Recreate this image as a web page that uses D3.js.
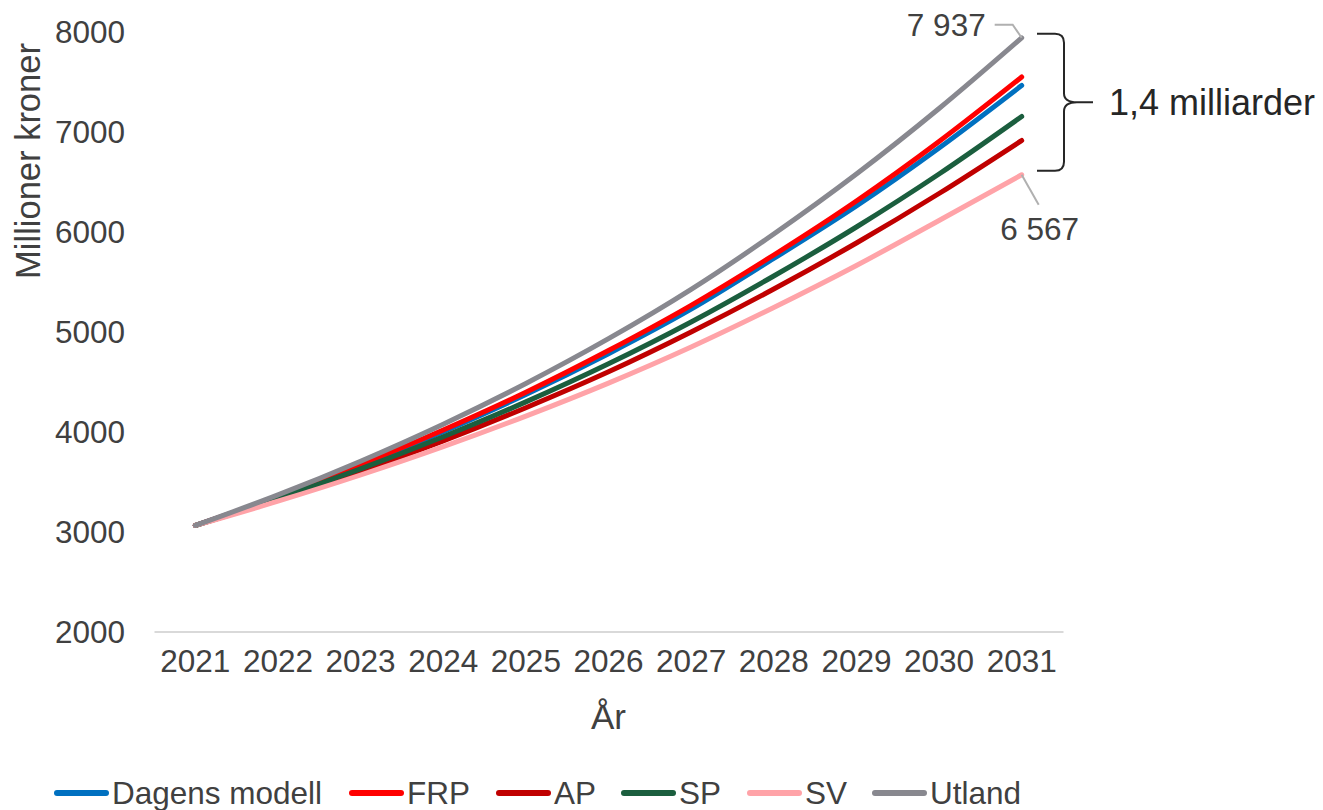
<!DOCTYPE html>
<html lang="no">
<head>
<meta charset="utf-8">
<script src="https://cdn.jsdelivr.net/npm/d3@7"></script>
<style>
  html, body { margin: 0; padding: 0; background: #ffffff; }
  svg { display: block; font-family: "Liberation Sans", Arial, sans-serif; }
</style>
</head>
<body>
<svg id="chart" width="1323" height="810"></svg>
<script>
// Years on the x axis
const years = ["2021", "2022", "2023", "2024", "2025", "2026", "2027", "2028", "2029", "2030", "2031"];

// Projected cost per model, million NOK
const dagensModell = [3060, 3345, 3657, 3998, 4370, 4778, 5223, 5730, 6255, 6835, 7460];
const frp          = [3060, 3349, 3668, 4015, 4393, 4810, 5262, 5765, 6305, 6900, 7545];
const ap           = [3060, 3319, 3601, 3906, 4238, 4597, 4995, 5425, 5885, 6380, 6910];
const sp           = [3060, 3331, 3626, 3947, 4296, 4677, 5095, 5555, 6045, 6575, 7150];
const sv           = [3060, 3303, 3565, 3848, 4154, 4484, 4845, 5240, 5660, 6110, 6567];
const utland       = [3060, 3366, 3703, 4073, 4480, 4928, 5421, 5975, 6575, 7230, 7937];

const seriesNames  = ["Dagens modell", "FRP", "AP", "SP", "SV", "Utland"];
const seriesValues = [dagensModell, frp, ap, sp, sv, utland];
const seriesColors = ["#0070c0", "#ff0000", "#c00000", "#1b5e3e", "#ffa3a8", "#88888f"];

const yTicks = [2000, 3000, 4000, 5000, 6000, 7000, 8000];

const textColor = "#404040";
const labelSize = 31.5;
const titleSize = 35;
const nb = d3.formatLocale({ decimal: ",", thousands: "\u00a0", grouping: [3], currency: ["", " kr"] });

const svg = d3.select("#chart");

const x = d3.scaleBand().domain(years).range([154, 1063]).paddingInner(0).paddingOuter(0);
const cx = d => x(d) + x.bandwidth() / 2;
const y = d3.scaleLinear().domain([2000, 8000]).range([631.5, 31.5]);

// Y axis: labels only
const yAxis = svg.append("g")
  .attr("transform", "translate(125,0)")
  .call(d3.axisLeft(y).tickValues(yTicks).tickSize(0).tickPadding(0).tickFormat(d3.format("d")));
yAxis.select(".domain").remove();
yAxis.selectAll("text")
  .attr("font-size", labelSize)
  .attr("font-family", "Liberation Sans, Arial, sans-serif")
  .attr("fill", textColor)
  .attr("dy", "0.36em");

// X axis: baseline line plus year labels
const xAxis = svg.append("g")
  .attr("transform", `translate(0,${y(2000)})`)
  .call(d3.axisBottom(x).tickSize(0).tickPadding(26));
xAxis.select(".domain").attr("stroke", "#d9d9d9").attr("stroke-width", 2);
xAxis.selectAll("text")
  .attr("font-size", labelSize)
  .attr("font-family", "Liberation Sans, Arial, sans-serif")
  .attr("fill", textColor)
  .attr("dy", "0.45em");

// Axis titles
svg.append("text")
  .attr("x", cx("2026")).attr("y", 729)
  .attr("text-anchor", "middle")
  .attr("font-size", titleSize).attr("fill", textColor)
  .text("År");

svg.append("text")
  .attr("transform", "translate(40,161) rotate(-90)")
  .attr("text-anchor", "middle")
  .attr("font-size", 34.5).attr("fill", textColor)
  .text("Millioner kroner");

// Lines
const line = d3.line()
  .x((d, i) => cx(years[i]))
  .y(d => y(d))
  .curve(d3.curveMonotoneX);

svg.append("g").selectAll("path")
  .data(seriesValues)
  .join("path")
  .attr("d", d => line(d))
  .attr("fill", "none")
  .attr("stroke", (d, i) => seriesColors[i])
  .attr("stroke-width", 5)
  .attr("stroke-linecap", "round")
  .attr("stroke-linejoin", "round");

// End value labels with leader lines
const lastYear = years[years.length - 1];
const xEnd = cx(lastYear);
const hi = utland[utland.length - 1];
const lo = sv[sv.length - 1];

svg.append("path")
  .attr("d", `M${xEnd - 27},${y(hi) - 13} H${xEnd - 9} L${xEnd},${y(hi)}`)
  .attr("fill", "none").attr("stroke", "#b0b0b0").attr("stroke-width", 2);
svg.append("text")
  .attr("x", xEnd - 36).attr("y", y(hi) - 2)
  .attr("text-anchor", "end")
  .attr("font-size", labelSize).attr("fill", textColor)
  .text(nb.format(",d")(hi));

svg.append("path")
  .attr("d", `M${xEnd},${y(lo)} L${xEnd + 17},${y(lo) + 30}`)
  .attr("fill", "none").attr("stroke", "#b0b0b0").attr("stroke-width", 2);
svg.append("text")
  .attr("x", xEnd + 18).attr("y", y(lo) + 65)
  .attr("text-anchor", "middle")
  .attr("font-size", labelSize).attr("fill", textColor)
  .text(nb.format(",d")(lo));

// Brace spanning the highest and lowest end values
const bTop = y(hi) - 4, bBot = y(lo) - 4, bMid = (bTop + bBot) / 2;
const bx = 1064, r = 9;
svg.append("path")
  .attr("d",
    `M1037,${bTop} H${bx - r} Q${bx},${bTop} ${bx},${bTop + r}` +
    ` V${bMid - r} Q${bx},${bMid} ${bx + r + 4},${bMid} H1093` +
    ` M${bx + r + 4},${bMid} Q${bx},${bMid} ${bx},${bMid + r}` +
    ` V${bBot - r} Q${bx},${bBot} ${bx - r},${bBot} H1037`)
  .attr("fill", "none").attr("stroke", "#262626").attr("stroke-width", 2);

svg.append("text")
  .attr("x", 1109).attr("y", bMid + 13)
  .attr("font-size", 36).attr("fill", "#262626")
  .text(nb.format(",.1f")((hi - lo) / 1000) + " milliarder");

// Legend
const legendX = [55, 350, 497, 622, 748, 873];
const legend = svg.append("g").selectAll("g")
  .data(seriesNames)
  .join("g")
  .attr("transform", (d, i) => `translate(${legendX[i]},793)`);
legend.append("line")
  .attr("x1", 2).attr("x2", 51).attr("y1", 0).attr("y2", 0)
  .attr("stroke", (d, i) => seriesColors[i])
  .attr("stroke-width", 6)
  .attr("stroke-linecap", "round");
legend.append("text")
  .attr("x", 57).attr("y", 10.5)
  .attr("font-size", labelSize).attr("fill", textColor)
  .text(d => d);
</script>
</body>
</html>
